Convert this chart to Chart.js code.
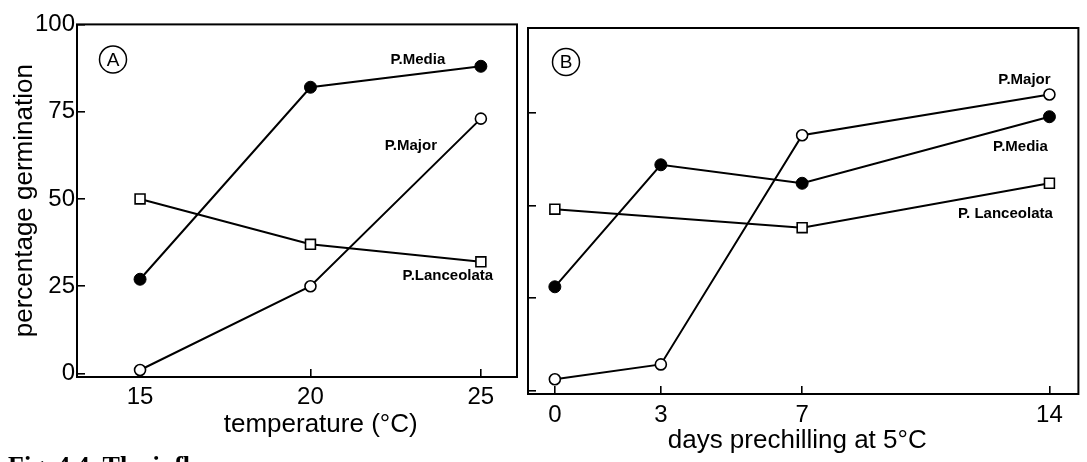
<!DOCTYPE html>
<html>
<head>
<meta charset="utf-8">
<script src="https://cdn.jsdelivr.net/npm/chart.js@4.4.1/dist/chart.umd.min.js"></script>
<style>
  html, body { margin: 0; padding: 0; background: #fff; overflow: hidden; }
  #wrap { position: relative; width: 1087px; height: 462px; background: #fff; }
  #wrap canvas { position: absolute; top: 0; }
  #temp { left: 0; }
  #chill { left: 517px; }
</style>
</head>
<body>
<div id="wrap">
  <canvas id="temp" width="540" height="462"></canvas>
  <canvas id="chill" width="570" height="462"></canvas>
</div>
<script>
// Panel A: percentage germination against temperature (°C)
const temperatures = [15, 20, 25];
const temperatureTicks = [15, 20, 25];
const mediaByTemperature = [27, 82, 88];
const majorByTemperature = [1, 25, 73];
const lanceolataByTemperature = [50, 37, 32];

// Panel B: percentage germination against days of prechilling at 5°C
const chillDays = [0, 3, 7, 14];
const chillTicks = [0, 3, 7, 14];
const mediaByChill = [28, 61, 56, 74];
const majorByChill = [3, 7, 69, 80];
const lanceolataByChill = [49, null, 44, 56];

const germinationTicks = [0, 25, 50, 75, 100];

const FAMILY = '"Liberation Sans", Arial, Helvetica, sans-serif';
Chart.defaults.color = '#000';
Chart.defaults.font.family = FAMILY;

const toPoints = (xs, ys) => xs.map((x, i) => ({ x: x, y: ys[i] }));

const seriesStyle = {
  media: { pointStyle: 'circle', pointRadius: 6, pointBackgroundColor: '#000', pointBorderColor: '#000', pointBorderWidth: 1 },
  major: { pointStyle: 'circle', pointRadius: 5.5, pointBackgroundColor: '#fff', pointBorderColor: '#000', pointBorderWidth: 1.6 },
  lanceolata: { pointStyle: 'rect', pointRadius: 7, pointBackgroundColor: '#fff', pointBorderColor: '#000', pointBorderWidth: 1.6 }
};

function dataset(label, points, style) {
  return Object.assign({
    label: label,
    data: points,
    borderColor: '#000',
    borderWidth: 2,
    tension: 0,
    spanGaps: true,
    pointHoverRadius: style.pointRadius
  }, style);
}

// Frame, circled panel letter, axis caption, series names and footnote
const panelDecor = {
  id: 'panelDecor',
  afterDatasetsDraw(chart, args, opts) {
    const ctx = chart.ctx;
    const a = chart.chartArea;
    ctx.save();
    ctx.strokeStyle = '#000';
    ctx.fillStyle = '#000';
    ctx.lineWidth = 2;
    ctx.strokeRect(a.left, a.top, a.right - a.left, a.bottom - a.top);

    // circled letter
    const bx = a.left + opts.badge.dx, by = a.top + opts.badge.dy;
    ctx.lineWidth = 1.5;
    ctx.beginPath();
    ctx.arc(bx, by, 13.5, 0, Math.PI * 2);
    ctx.stroke();
    ctx.font = '19px ' + FAMILY;
    ctx.textAlign = 'center';
    ctx.textBaseline = 'middle';
    ctx.fillText(opts.badge.text, bx, by + 1);

    // x axis caption
    ctx.font = '26px ' + FAMILY;
    ctx.fillText(opts.caption.text, chart.scales.x.getPixelForValue(opts.caption.at), a.bottom + opts.caption.dy);

    // series names beside their last points
    ctx.font = 'bold 15px ' + FAMILY;
    opts.names.forEach(n => {
      const pt = chart.getDatasetMeta(n.dataset).data[n.index];
      ctx.fillText(n.text, pt.x + n.dx, pt.y + n.dy);
    });

    // figure caption, running off the lower edge
    if (opts.footnote) {
      ctx.font = 'bold 26px "Liberation Serif", "Times New Roman", serif';
      ctx.textAlign = 'left';
      ctx.textBaseline = 'alphabetic';
      ctx.fillText(opts.footnote.text, opts.footnote.x, chart.height + opts.footnote.dy);
    }
    ctx.restore();
  }
};

function xScale(min, max, ticks, pad, height) {
  return {
    type: 'linear',
    min: min,
    max: max,
    afterBuildTicks: s => { s.ticks = ticks.map(v => ({ value: v })); },
    afterFit: s => { s.height = height; },
    ticks: { autoSkip: false, maxRotation: 0, padding: pad, font: { size: 24 }, color: '#000' },
    grid: { drawOnChartArea: false, drawTicks: true, tickLength: -8, color: '#000', lineWidth: 1.6 },
    border: { display: false }
  };
}

function yScale(max, ticks, width, showLabels, title) {
  return {
    type: 'linear',
    min: -1,
    max: max,
    afterBuildTicks: s => { s.ticks = ticks.filter(v => v <= max).map(v => ({ value: v })); },
    afterFit: s => { s.width = width; },
    ticks: {
      padding: 10,
      font: { size: 24 },
      color: '#000',
      callback: v => showLabels ? String(v) : ''
    },
    grid: { drawOnChartArea: false, drawTicks: true, tickLength: -8, color: '#000', lineWidth: 1.6 },
    border: { display: false },
    title: title ? {
      display: true,
      text: title,
      color: '#000',
      font: { size: 26 },
      padding: { top: 9, bottom: 0 }
    } : { display: false }
  };
}

const common = {
  responsive: false,
  animation: false,
  events: [],
  plugins: { legend: { display: false }, tooltip: { enabled: false } }
};

new Chart(document.getElementById('temp'), {
  type: 'line',
  data: {
    datasets: [
      dataset('P.Media', toPoints(temperatures, mediaByTemperature), seriesStyle.media),
      dataset('P.Major', toPoints(temperatures, majorByTemperature), seriesStyle.major),
      dataset('P.Lanceolata', toPoints(temperatures, lanceolataByTemperature), seriesStyle.lanceolata)
    ]
  },
  options: Object.assign({}, common, {
    layout: { padding: { top: 15, right: 23, bottom: 0, left: 0 } },
    scales: {
      x: xScale(13.15, 26.06, temperatureTicks, 14, 85),
      y: yScale(100, germinationTicks, 77, true, 'percentage germination')
    },
    plugins: Object.assign({}, common.plugins, {
      panelDecor: {
        badge: { text: 'A', dx: 36, dy: 35 },
        caption: { text: 'temperature (°C)', at: 20.3, dy: 48 },
        names: [
          { dataset: 0, index: 2, text: 'P.Media', dx: -63, dy: -6 },
          { dataset: 1, index: 2, text: 'P.Major', dx: -70, dy: 27 },
          { dataset: 2, index: 2, text: 'P.Lanceolata', dx: -33, dy: 14 }
        ],
        footnote: { text: 'Fig. 4.4. The influence', x: 8, dy: 12 }
      }
    })
  }),
  plugins: [panelDecor]
});

new Chart(document.getElementById('chill'), {
  type: 'line',
  data: {
    datasets: [
      dataset('P.Media', toPoints(chillDays, mediaByChill), seriesStyle.media),
      dataset('P.Major', toPoints(chillDays, majorByChill), seriesStyle.major),
      dataset('P. Lanceolata', toPoints(chillDays, lanceolataByChill), seriesStyle.lanceolata)
    ]
  },
  options: Object.assign({}, common, {
    layout: { padding: { top: 28, right: 7, bottom: 0, left: 0 } },
    scales: {
      x: xScale(-0.76, 14.82, chillTicks, 15, 68),
      y: yScale(98, germinationTicks, 11, false, null)
    },
    plugins: Object.assign({}, common.plugins, {
      panelDecor: {
        badge: { text: 'B', dx: 38, dy: 34 },
        caption: { text: 'days prechilling at 5°C', at: 6.86, dy: 47 },
        names: [
          { dataset: 0, index: 3, text: 'P.Media', dx: -29, dy: 30 },
          { dataset: 1, index: 3, text: 'P.Major', dx: -25, dy: -15 },
          { dataset: 2, index: 3, text: 'P. Lanceolata', dx: -44, dy: 31 }
        ]
      }
    })
  }),
  plugins: [panelDecor]
});
</script>
</body>
</html>
